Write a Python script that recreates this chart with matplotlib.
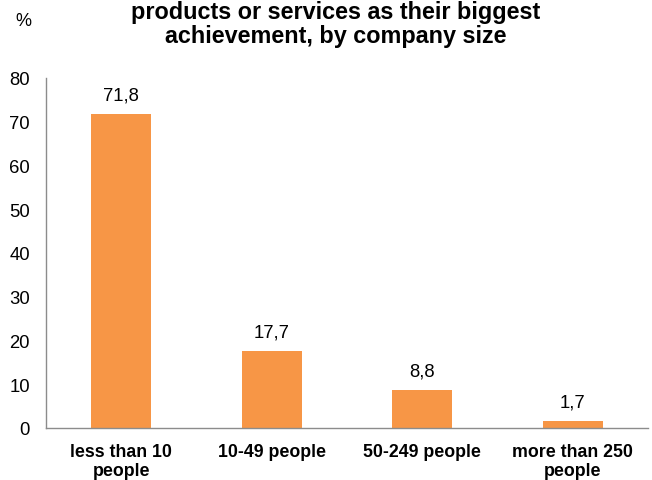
import matplotlib
matplotlib.use("Agg")
import matplotlib.pyplot as plt

plt.rcParams['font.family'] = ['Liberation Sans', 'DejaVu Sans']

categories = ["less than 10\npeople", "10-49 people", "50-249 people", "more than 250\npeople"]
values = [71.8, 17.7, 8.8, 1.7]
value_labels = ["71,8", "17,7", "8,8", "1,7"]
yticks = [0, 10, 20, 30, 40, 50, 60, 70, 80]

W, H = 652, 481
fig = plt.figure(figsize=(W / 100, H / 100), dpi=100)
ax = fig.add_axes([46 / W, 52 / H, 602 / W, 350 / H])

x = range(len(categories))
bars = ax.bar(x, values, width=0.4, color='#F79646', zorder=2)

for bar, lab in zip(bars, value_labels):
    ax.text(bar.get_x() + bar.get_width() / 2, bar.get_height() + 4.3, lab,
            ha='center', va='center', fontsize=13.3, color='black')

ax.set_xlim(-0.5, 3.5)
ax.set_ylim(0, 80)
ax.set_yticks(yticks)
ax.set_xticks(list(x))
ax.set_xticklabels(categories, fontsize=12.8, fontweight='bold', linespacing=1.12)
ax.tick_params(axis='y', length=0, pad=11.5, labelsize=13.3)
ax.tick_params(axis='x', length=0, pad=11)

for side in ['top', 'right']:
    ax.spines[side].set_visible(False)
for side in ['left', 'bottom']:
    ax.spines[side].set_color('#8C8C8C')
    ax.spines[side].set_linewidth(1.0)

# two-line title at the very top of the figure
fig.text(336 / W, 1 - 18.5 / H, "products or services as their biggest",
         ha='center', va='baseline', fontsize=16.8, fontweight='bold')
fig.text(336 / W, 1 - 43.5 / H, "achievement, by company size",
         ha='center', va='baseline', fontsize=16.8, fontweight='bold')
fig.text(23.5 / W, 1 - 21.5 / H, "%", ha='center', va='center', fontsize=13)

fig.savefig('out.png', dpi=100)
